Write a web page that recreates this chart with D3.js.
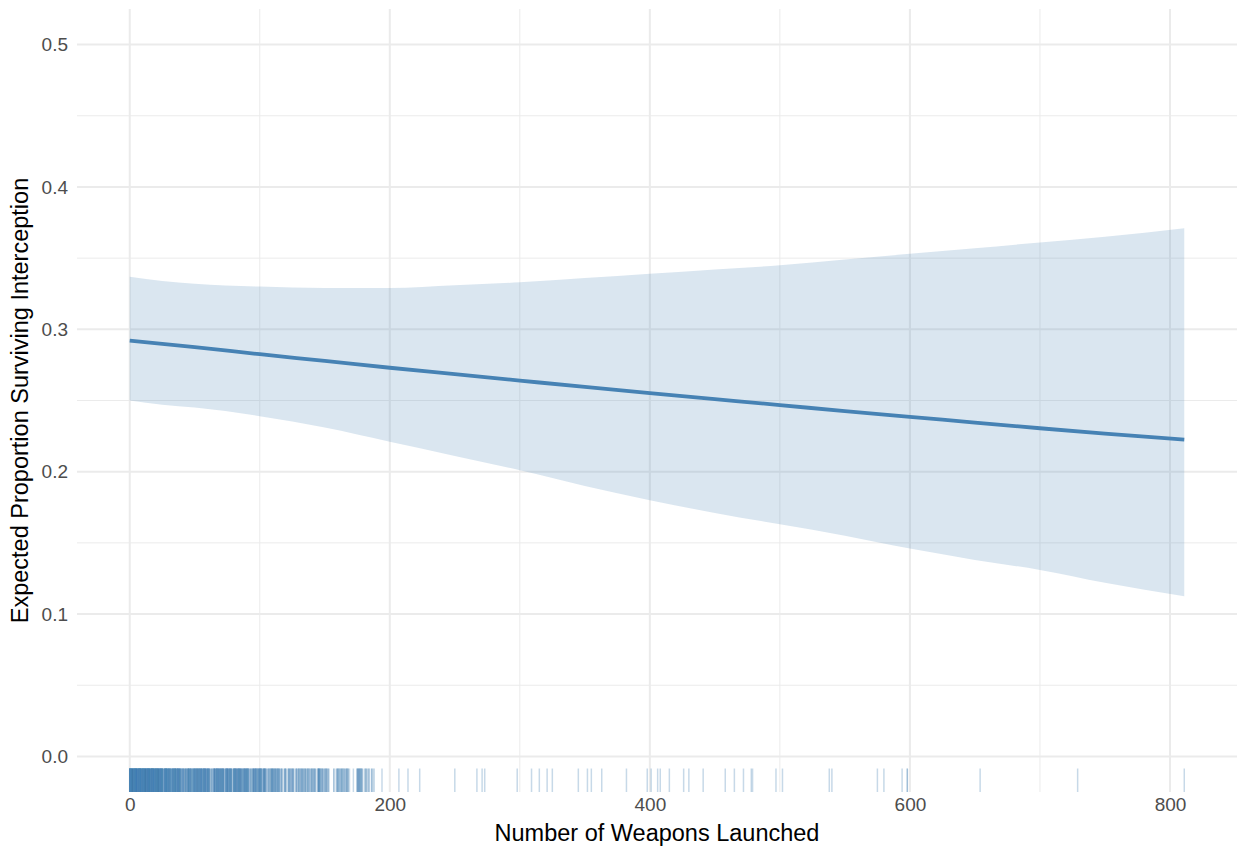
<!DOCTYPE html>
<html>
<head>
<meta charset="utf-8">
<script src="https://cdn.jsdelivr.net/npm/d3@7"></script>
<style>
  body { margin: 0; background: #fff; }
  svg { display: block; font-family: "Liberation Sans", Arial, Helvetica, sans-serif; }
</style>
</head>
<body>
<svg id="chart" width="1238" height="848"></svg>
<script>
let d3 = window.d3;

// fitted curve + confidence band (x = weapons launched)
let fitX     = [0, 25, 50, 100, 150, 200, 250, 300, 350, 400, 450, 500, 550, 600, 650, 700, 750, 811];
let fitMean  = [0.292, 0.2897, 0.2875, 0.2825, 0.2778, 0.2730, 0.2685, 0.2640, 0.2595, 0.2552, 0.2510, 0.2468, 0.2425, 0.2385, 0.2345, 0.2305, 0.2268, 0.2225];
let fitUpper = [0.337, 0.334, 0.332, 0.330, 0.329, 0.329, 0.331, 0.333, 0.336, 0.339, 0.342, 0.345, 0.349, 0.353, 0.357, 0.361, 0.365, 0.371];
let fitLower = [0.250, 0.247, 0.245, 0.239, 0.231, 0.221, 0.211, 0.201, 0.190, 0.180, 0.171, 0.163, 0.155, 0.146, 0.138, 0.131, 0.122, 0.1125];

// rug: number of observations at each count 0..190 (index = weapons launched)
let rugCounts = [
  10,10,10,10,10,10,10,10,10,10,
  10,9,10,9,10,9,9,10,9,9,
  9,8,9,8,8,7,4,7,8,7,
  7,6,4,7,6,7,6,7,6,6,
  3,5,3,5,3,6,6,5,3,6,
  6,5,6,6,5,6,5,6,6,5,
  6,5,2,3,2,6,5,6,5,6,
  5,5,6,2,5,6,5,5,5,2,
  5,6,5,5,6,5,5,3,5,6,
  5,5,2,3,2,5,5,5,3,5,
  5,5,2,5,5,2,2,3,2,5,
  4,3,4,3,4,3,2,3,0,3,
  3,0,3,3,2,3,3,0,3,2,
  3,2,3,3,2,3,2,3,2,2,
  3,2,3,2,0,5,5,2,3,2,
  2,3,2,2,0,0,0,2,0,2,
  3,2,2,3,2,2,2,3,2,1,
  0,0,1,0,0,3,4,3,3,2,
  0,2,2,1,2,0,2,1,1,0,
  0
];
// rug: sparse observations above 190
let rugSparse = [194, 207, 214, 223, 250, 267, 271, 273, 298, 309, 315, 321, 325, 345, 352, 355, 363,
  382, 398, 401, 406, 408, 415, 426, 430, 441, 458, 465, 472, 478, 479, 497, 502, 538, 540,
  575, 580, 594, 598, 598, 654, 729, 811];

let xTicks = [0, 200, 400, 600, 800];
let xMinor = [100, 300, 500, 700];
let yTicks = [0, 0.1, 0.2, 0.3, 0.4, 0.5];
let yMinor = [0.05, 0.15, 0.25, 0.35, 0.45];

const PANEL = { LEFT: 77, RIGHT: 1237, TOP: 9, BOTTOM: 792 };
const BLUE = "steelblue";

let svg = d3.select("#chart");

let xScale = d3.scaleLinear()
  .domain([-40.55, 851.55])
  .range([PANEL.LEFT, PANEL.RIGHT]);

let yScale = d3.scaleLinear()
  .domain([-0.025, 0.525])
  .range([PANEL.BOTTOM, PANEL.TOP]);

// grid
let grid = svg.append("g").attr("class", "grid");
grid.selectAll(".ymin").data(yMinor).enter().append("line")
  .attr("x1", PANEL.LEFT).attr("x2", PANEL.RIGHT)
  .attr("y1", d => yScale(d)).attr("y2", d => yScale(d))
  .attr("stroke", "#EBEBEB").attr("stroke-width", 1);
grid.selectAll(".xmin").data(xMinor).enter().append("line")
  .attr("y1", PANEL.TOP).attr("y2", PANEL.BOTTOM)
  .attr("x1", d => xScale(d)).attr("x2", d => xScale(d))
  .attr("stroke", "#EBEBEB").attr("stroke-width", 1);
grid.selectAll(".ymaj").data(yTicks).enter().append("line")
  .attr("x1", PANEL.LEFT).attr("x2", PANEL.RIGHT)
  .attr("y1", d => yScale(d)).attr("y2", d => yScale(d))
  .attr("stroke", "#EBEBEB").attr("stroke-width", 2);
grid.selectAll(".xmaj").data(xTicks).enter().append("line")
  .attr("y1", PANEL.TOP).attr("y2", PANEL.BOTTOM)
  .attr("x1", d => xScale(d)).attr("x2", d => xScale(d))
  .attr("stroke", "#EBEBEB").attr("stroke-width", 2);

// confidence ribbon
let band = fitX.map((x, i) => ({ x: x, lo: fitLower[i], hi: fitUpper[i], m: fitMean[i] }));

svg.append("path")
  .datum(band)
  .attr("fill", BLUE)
  .attr("fill-opacity", 0.2)
  .attr("d", d3.area()
    .x(d => xScale(d.x))
    .y0(d => yScale(d.lo))
    .y1(d => yScale(d.hi))
    .curve(d3.curveMonotoneX));

svg.append("path")
  .datum(band)
  .attr("fill", "none")
  .attr("stroke", BLUE)
  .attr("stroke-width", 3.8)
  .attr("d", d3.line()
    .x(d => xScale(d.x))
    .y(d => yScale(d.m))
    .curve(d3.curveMonotoneX));

// rug along the bottom (3% of panel height)
let rugData = [];
rugCounts.forEach((c, v) => { for (let k = 0; k < c; k++) rugData.push(v); });
rugSparse.forEach(v => rugData.push(v));

let rugLen = (PANEL.BOTTOM - PANEL.TOP) * 0.03;
svg.append("g").attr("class", "rug")
  .selectAll("line")
  .data(rugData)
  .enter()
  .append("line")
  .attr("x1", d => xScale(d)).attr("x2", d => xScale(d))
  .attr("y1", PANEL.BOTTOM - rugLen).attr("y2", PANEL.BOTTOM)
  .attr("stroke", BLUE)
  .attr("stroke-opacity", 0.3)
  .attr("stroke-width", 1.5);

// axes (text only, minimal theme)
let yAxis = d3.axisLeft(yScale)
  .tickValues(yTicks)
  .tickFormat(d3.format(".1f"))
  .tickSize(0)
  .tickPadding(9);
svg.append("g")
  .attr("transform", "translate(" + PANEL.LEFT + ",0)")
  .call(yAxis)
  .call(g => g.select(".domain").remove())
  .selectAll("text")
  .attr("fill", "#4D4D4D")
  .style("font-size", "19px")
  .style("font-family", "'Liberation Sans', Arial, sans-serif");

let xAxis = d3.axisBottom(xScale)
  .tickValues(xTicks)
  .tickFormat(d3.format("d"))
  .tickSize(0)
  .tickPadding(6);
svg.append("g")
  .attr("transform", "translate(0," + PANEL.BOTTOM + ")")
  .call(xAxis)
  .call(g => g.select(".domain").remove())
  .selectAll("text")
  .attr("fill", "#4D4D4D")
  .style("font-size", "19px")
  .style("font-family", "'Liberation Sans', Arial, sans-serif");

// axis titles
svg.append("text")
  .attr("text-anchor", "middle")
  .attr("x", (PANEL.LEFT + PANEL.RIGHT) / 2)
  .attr("y", 841)
  .attr("font-size", "23.5px")
  .attr("fill", "#000")
  .text("Number of Weapons Launched");

svg.append("text")
  .attr("text-anchor", "middle")
  .attr("transform", "translate(28," + ((PANEL.TOP + PANEL.BOTTOM) / 2) + ") rotate(-90)")
  .attr("font-size", "23.5px")
  .attr("fill", "#000")
  .text("Expected Proportion Surviving Interception");
</script>
</body>
</html>
